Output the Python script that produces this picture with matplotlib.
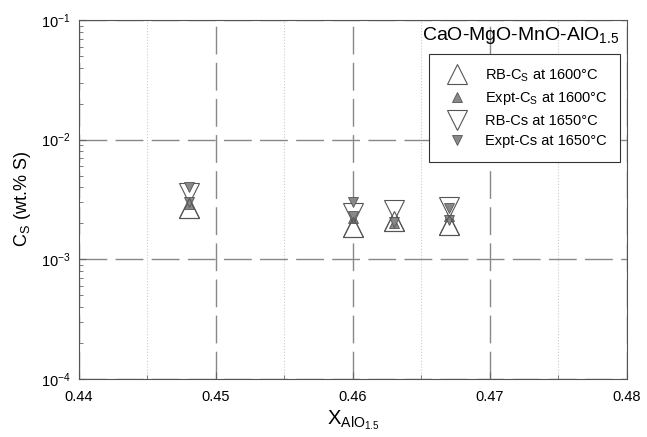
import numpy as np
import matplotlib.pyplot as plt

plt.rcParams['font.family'] = ['Liberation Sans', 'DejaVu Sans']
plt.rcParams['mathtext.fontset'] = 'custom'
plt.rcParams['mathtext.rm'] = 'Liberation Sans'
plt.rcParams['mathtext.it'] = 'Liberation Sans'

# X_AlO1.5 for each composition
x_rb1600 = [0.448, 0.460, 0.463, 0.467]
cs_rb1600 = [2.7e-3, 1.85e-3, 2.1e-3, 1.95e-3]

x_ex1600 = [0.448, 0.460, 0.463, 0.467]
cs_ex1600 = [2.9e-3, 2.2e-3, 2.0e-3, 2.3e-3]

x_rb1650 = [0.448, 0.460, 0.463, 0.467]
cs_rb1650 = [3.6e-3, 2.45e-3, 2.6e-3, 2.75e-3]

x_ex1650 = [0.448, 0.448, 0.460, 0.460, 0.463, 0.467, 0.467]
cs_ex1650 = [4.0e-3, 3.0e-3, 3.0e-3, 2.3e-3, 2.05e-3, 2.7e-3, 2.15e-3]

fig = plt.figure(figsize=(6.47, 4.37), dpi=100)
ax = fig.add_axes([0.122, 0.133, 0.847, 0.821])

ax.plot(x_rb1600, cs_rb1600, ls='none', marker='^', ms=15, mfc='white', mec='#555555', mew=0.8,
        label='RB-C$_\\mathregular{S}$ at 1600°C')
ax.plot(x_ex1600, cs_ex1600, ls='none', marker='^', ms=7, mfc='#888888', mec='#555555', mew=0.6,
        label='Expt-C$_\\mathregular{S}$ at 1600°C')
ax.plot(x_rb1650, cs_rb1650, ls='none', marker='v', ms=15, mfc='white', mec='#555555', mew=0.8,
        label='RB-Cs at 1650°C')
ax.plot(x_ex1650, cs_ex1650, ls='none', marker='v', ms=7, mfc='#888888', mec='#555555', mew=0.6,
        label='Expt-Cs at 1650°C')
# open up triangles drawn on top so they look like the reference overlap
ax.plot(x_rb1600, cs_rb1600, ls='none', marker='^', ms=15, mfc='none', mec='#555555', mew=0.8)

ax.set_yscale('log')
ax.set_xlim(0.44, 0.48)
ax.set_ylim(1e-4, 1e-1)
ax.set_xticks([0.44, 0.45, 0.46, 0.47, 0.48])
ax.set_xticklabels(['0.44', '0.45', '0.46', '0.47', '0.48'])
ax.set_xticks([0.445, 0.455, 0.465, 0.475], minor=True)

ax.grid(True, which='major', axis='both', color='#888888', ls=(0, (20, 6)), lw=1.0)
ax.grid(True, which='minor', axis='x', color='#cccccc', ls=':', lw=0.8)
ax.grid(False, which='minor', axis='y')
ax.tick_params(which='both', direction='in', labelsize=10.5, color='#666666')
ax.tick_params(which='major', length=5)
ax.tick_params(which='minor', length=3)
ax.tick_params(axis='x', which='major', pad=8)
ax.tick_params(axis='y', which='major', pad=6)
for s in ax.spines.values():
    s.set_color('#555555')

ax.set_xlabel('X$_\\mathregular{AlO_{1.5}}$', fontsize=14.5, labelpad=3)
ax.set_ylabel('C$_\\mathregular{S}$ (wt.% S)', fontsize=13, labelpad=6)

ax.text(0.985, 0.985, 'CaO-MgO-MnO-AlO$_\\mathregular{1.5}$', transform=ax.transAxes,
        ha='right', va='top', fontsize=14)

leg = ax.legend(loc='upper right', bbox_to_anchor=(0.988, 0.905), fontsize=10.5, fancybox=False,
                framealpha=1, edgecolor='#333333', borderpad=0.9, labelspacing=0.45,
                handletextpad=0.9, borderaxespad=0)
leg.get_frame().set_linewidth(0.8)

fig.savefig('out.png', dpi=100)
